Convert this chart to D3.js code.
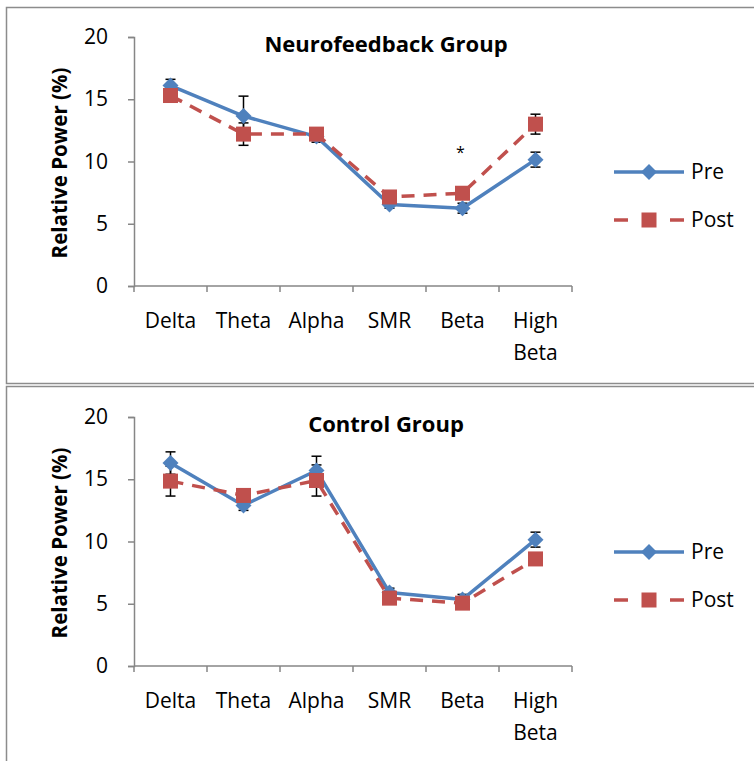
<!DOCTYPE html>
<html>
<head>
<meta charset="utf-8">
<script src="https://cdn.jsdelivr.net/npm/d3@7"></script>
<style>
  html, body { margin: 0; padding: 0; background: #fff; }
  svg { display: block; }
  text { font-family: "Open Sans", sans-serif; fill: #000; }
</style>
</head>
<body>
<svg id="chart" width="754" height="761"></svg>
<script>
// EEG band categories and tick values shared by both panels
const bands = ["Delta", "Theta", "Alpha", "SMR", "Beta", "High Beta"];
const yTicks = [0, 5, 10, 15, 20];

// Neurofeedback group: mean relative power (%) and standard error
const nfPre = [16.1, 13.65, 12.0, 6.55, 6.25, 10.15];
const nfPreErr = [0.5, 1.6, 0.45, 0.3, 0.4, 0.6];
const nfPost = [15.3, 12.2, 12.2, 7.15, 7.45, 13.0];
const nfPostErr = [0.4, 0.9, 0.5, 0.3, 0.3, 0.8];

// Control group: mean relative power (%) and standard error
const ctPre = [16.3, 12.9, 15.7, 5.9, 5.35, 10.15];
const ctPreErr = [0.9, 0.4, 1.15, 0.35, 0.4, 0.6];
const ctPost = [14.85, 13.7, 14.9, 5.45, 5.05, 8.6];
const ctPostErr = [1.2, 0.3, 1.25, 0.3, 0.3, 0.3];

const seriesNames = ["Pre", "Post"];
const blue = "#4F81BD", red = "#C0504D", axisGrey = "#868686";
const FONT = "\"Open Sans\", sans-serif";

const svg = d3.select("#chart");

const panels = [
  { top: 0, title: "Neurofeedback Group", pre: nfPre, preErr: nfPreErr, post: nfPost, postErr: nfPostErr, star: 4 },
  { top: 380, title: "Control Group", pre: ctPre, preErr: ctPreErr, post: ctPost, postErr: ctPostErr, star: null }
];

// Panel frames
svg.append("rect").attr("x", 6.5).attr("y", 7.5).attr("width", 800).attr("height", 376)
  .attr("fill", "none").attr("stroke", "#8c8c8c").attr("stroke-width", 1.5);
svg.append("rect").attr("x", 6.5).attr("y", 386.5).attr("width", 800).attr("height", 400)
  .attr("fill", "none").attr("stroke", "#8c8c8c").attr("stroke-width", 1.5);

panels.forEach(p => {
  const g = svg.append("g").attr("transform", `translate(0,${p.top})`);

  const x = d3.scaleBand().domain(bands).range([134, 572]);
  const y = d3.scaleLinear().domain([0, 20]).range([286, 37]);
  const cx = d => x(d) + x.bandwidth() / 2;

  // Y axis
  const yAxis = g.append("g").attr("transform", "translate(134,0)")
    .call(d3.axisLeft(y).tickValues(yTicks).tickSize(6).tickPadding(20));
  yAxis.select(".domain").attr("stroke", axisGrey).attr("stroke-width", 1.5);
  yAxis.selectAll(".tick line").attr("stroke", axisGrey).attr("stroke-width", 1.5);
  yAxis.selectAll(".tick text").style("font-size", "21px").attr("fill", "#000")
    .style("font-family", FONT);

  // X axis with ticks at category boundaries
  const xAxisG = g.append("g").attr("transform", "translate(0,286)");
  const xLin = d3.scaleLinear().domain([0, bands.length]).range([134, 572]);
  xAxisG.append("line").attr("x1", 134).attr("x2", 572).attr("y1", 0).attr("y2", 0)
    .attr("stroke", axisGrey).attr("stroke-width", 1.5);
  xAxisG.selectAll("line.tk").data(d3.range(bands.length + 1)).join("line")
    .attr("class", "tk")
    .attr("x1", d => xLin(d)).attr("x2", d => xLin(d))
    .attr("y1", 0).attr("y2", 6)
    .attr("stroke", axisGrey).attr("stroke-width", 1.5);
  const lbl = xAxisG.selectAll("text").data(bands).join("text")
    .attr("x", d => cx(d)).attr("y", 42)
    .attr("text-anchor", "middle").style("font-size", "21px");
  lbl.each(function(d) {
    const words = d.split(" ");
    const t = d3.select(this);
    words.forEach((w, i) => {
      t.append("tspan").attr("x", cx(d)).attr("dy", i === 0 ? 0 : 32).text(w);
    });
  });

  // Axis title
  g.append("text")
    .attr("transform", "translate(67,163) rotate(-90)")
    .attr("text-anchor", "middle")
    .style("font-size", "20.5px").style("font-weight", "bold")
    .text("Relative Power (%)");

  // Chart title
  g.append("text").attr("x", 386).attr("y", 52)
    .attr("text-anchor", "middle")
    .style("font-size", "22px").style("font-weight", "bold")
    .text(p.title);

  const line = d3.line().x((d, i) => cx(bands[i])).y(d => y(d));

  // Error bars
  function errBars(vals, errs) {
    const eg = g.append("g");
    vals.forEach((v, i) => {
      const xc = cx(bands[i]);
      const y1 = y(v + errs[i]), y2 = y(v - errs[i]);
      eg.append("line").attr("x1", xc).attr("x2", xc).attr("y1", y1).attr("y2", y2)
        .attr("stroke", "#000").attr("stroke-width", 1.5);
      [y1, y2].forEach(yy => eg.append("line")
        .attr("x1", xc - 5).attr("x2", xc + 5).attr("y1", yy).attr("y2", yy)
        .attr("stroke", "#000").attr("stroke-width", 1.5));
    });
  }
  errBars(p.pre, p.preErr);
  errBars(p.post, p.postErr);

  // Pre series: solid blue with diamonds
  g.append("path").datum(p.pre).attr("d", line)
    .attr("fill", "none").attr("stroke", blue).attr("stroke-width", 3.5)
    .attr("stroke-linejoin", "round");
  g.selectAll("path.dia").data(p.pre).join("path").attr("class", "dia")
    .attr("transform", (d, i) => `translate(${cx(bands[i])},${y(d)})`)
    .attr("d", "M0,-8L8,0L0,8L-8,0Z").attr("fill", blue);

  // Post series: dashed red with squares
  g.append("path").datum(p.post).attr("d", line)
    .attr("fill", "none").attr("stroke", red).attr("stroke-width", 3.5)
    .attr("stroke-dasharray", "13,9");
  g.selectAll("rect.sq").data(p.post).join("rect").attr("class", "sq")
    .attr("x", (d, i) => cx(bands[i]) - 7.5).attr("y", d => y(d) - 7.5)
    .attr("width", 15).attr("height", 15).attr("fill", red);

  // Significance marker
  if (p.star !== null) {
    g.append("text").attr("x", cx(bands[p.star]) - 2).attr("y", 158)
      .attr("text-anchor", "middle").style("font-size", "16px").text("*");
  }

  // Legend
  const leg = g.append("g");
  seriesNames.forEach((name, i) => {
    const ly = 172 + i * 48;
    if (i === 0) {
      leg.append("line").attr("x1", 614).attr("x2", 684).attr("y1", ly).attr("y2", ly)
        .attr("stroke", blue).attr("stroke-width", 3.5);
      leg.append("path").attr("transform", `translate(649,${ly})`)
        .attr("d", "M0,-8L8,0L0,8L-8,0Z").attr("fill", blue);
    } else {
      leg.append("line").attr("x1", 614).attr("x2", 684).attr("y1", ly).attr("y2", ly)
        .attr("stroke", red).attr("stroke-width", 3.5).attr("stroke-dasharray", "14,14");
      leg.append("rect").attr("x", 641.5).attr("y", ly - 7.5).attr("width", 15).attr("height", 15)
        .attr("fill", red);
    }
    leg.append("text").attr("x", 691).attr("y", ly + 7).style("font-size", "21px").text(name);
  });
});
</script>
</body>
</html>
